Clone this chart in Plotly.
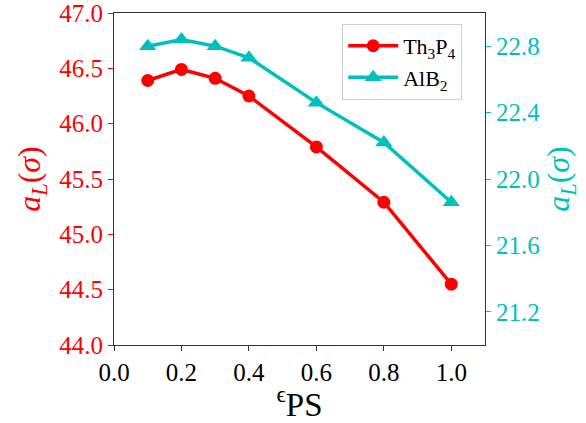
import plotly.graph_objects as go

# strain parameter and lattice constants for the two structures
eps_ps = [0.1, 0.2, 0.3, 0.4, 0.6, 0.8, 1.0]
a_th3p4 = [46.39, 46.49, 46.41, 46.25, 45.79, 45.29, 44.55]
a_alb2 = [22.80, 22.84, 22.80, 22.73, 22.46, 22.22, 21.86]

RED = "#FF0000"
CYAN = "#00BFBF"
FONT = "Liberation Serif"

fig = go.Figure()
fig.add_trace(go.Scatter(
    x=eps_ps, y=a_th3p4, name="Th<sub>3</sub>P<sub>4</sub>", mode="lines+markers",
    line=dict(color=RED, width=3.5), marker=dict(symbol="circle", size=13, color=RED),
    yaxis="y",
))
fig.add_trace(go.Scatter(
    x=eps_ps, y=a_alb2, name="AlB<sub>2</sub>", mode="lines+markers",
    line=dict(color=CYAN, width=3.5), marker=dict(symbol="triangle-up", size=15, color=CYAN),
    yaxis="y2",
))

fig.update_layout(
    template="none",
    width=586, height=423,
    margin=dict(l=114, r=101, t=13, b=78),
    paper_bgcolor="white", plot_bgcolor="white",
    font=dict(family=FONT, size=25, color="black"),
    showlegend=True,
    legend=dict(
        x=0.615, y=0.967, xanchor="left", yanchor="top",
        bgcolor="white", bordercolor="#d0d0d0", borderwidth=1,
        font=dict(size=22, family=FONT, color="black"), itemwidth=50,
        tracegroupgap=0,
    ),
    xaxis=dict(
        range=[0, 1.1], tick0=0, dtick=0.2, tickformat=".1f",
        showline=True, linecolor="#333333", linewidth=1.2, mirror=True,
        ticks="outside", ticklen=5, tickcolor="#333333",
        tickfont=dict(family=FONT, size=25, color="black"),
        showgrid=False, zeroline=False, ticklabeloverflow="allow",
        title=dict(text="<sup>ϵ</sup>PS", font=dict(family=FONT, size=33, color="black"), standoff=2),
    ),
    yaxis=dict(
        range=[44.0, 47.0], tick0=44.0, dtick=0.5, tickformat=".1f",
        showline=True, linecolor="#333333", linewidth=1.2,
        ticks="outside", ticklen=5, tickcolor=RED,
        tickfont=dict(family=FONT, size=25, color=RED), showgrid=False, zeroline=False,
        ticklabeloverflow="allow", automargin=False,
        title=dict(text="<i>a</i><sub><i>L</i></sub>(<i>σ</i>)",
                   font=dict(family=FONT, size=32, color=RED), standoff=8),
    ),
    yaxis2=dict(
        overlaying="y", side="right",
        range=[21.0, 23.0], tick0=21.2, dtick=0.4, tickformat=".1f",
        showline=True, linecolor="#333333", linewidth=1.2,
        ticks="outside", ticklen=5, tickcolor=CYAN,
        tickfont=dict(family=FONT, size=25, color=CYAN), showgrid=False, zeroline=False,
        ticklabeloverflow="allow", automargin=False,
        title=dict(text="<i>a</i><sub><i>L</i></sub>(<i>σ</i>)",
                   font=dict(family=FONT, size=32, color=CYAN), standoff=2),
    ),
)

fig.write_html("out.html")
